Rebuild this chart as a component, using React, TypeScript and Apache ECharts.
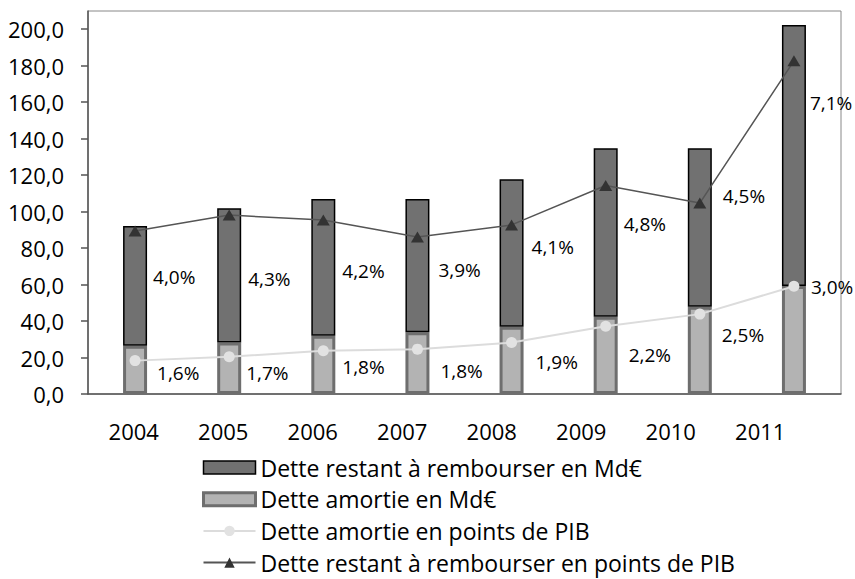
import React, { useEffect, useRef } from "react";
import * as echarts from "echarts";

const years = ["2004", "2005", "2006", "2007", "2008", "2009", "2010", "2011"];
// Md€ (stacked bars)
const detteAmortieMd = [26.5, 28.3, 32.0, 33.8, 36.9, 42.4, 47.9, 59.2];
const detteRestantMd = [65.6, 73.5, 74.9, 73.1, 80.8, 92.3, 86.8, 143.1];
// points de PIB (%)
const detteAmortiePib = [1.61, 1.68, 1.79, 1.82, 1.94, 2.24, 2.46, 2.97];
const detteRestantPib = [3.98, 4.27, 4.18, 3.87, 4.09, 4.81, 4.49, 7.09];

// label nudges (pixels, relative to the point)
const restantLabelOffsets = [[18, 46], [19, 64], [19, 51], [21, 33], [20, 22], [18, 38], [23, -7], [16, 42]];
const amortieLabelOffsets = [[22, 12], [17, 16], [19, 16], [23, 22], [24, 19], [23, 29], [22, 21], [17, 1]];

const NAME_RESTANT_MD = "Dette restant à rembourser en Md€";
const NAME_AMORTIE_MD = "Dette amortie en Md€";
const NAME_AMORTIE_PIB = "Dette amortie en points de PIB";
const NAME_RESTANT_PIB = "Dette restant à rembourser en points de PIB";

const FONT = "'Open Sans', 'Noto Sans', sans-serif";
const fmtPct = (v: number) => v.toFixed(1).replace(".", ",") + "%";

export default function App() {
  const ref = useRef<HTMLDivElement>(null);
  useEffect(() => {
    if (!ref.current) return;
    const chart = echarts.init(ref.current, undefined, { renderer: "svg" });
    const pctLabel = {
      show: true,
      position: "inside",
      align: "left",
      verticalAlign: "middle",
      fontSize: 19,
      color: "#000",
      fontFamily: FONT,
      formatter: (p: any) => fmtPct(p.value),
    };
    chart.setOption({
      animation: false,
      backgroundColor: "#fff",
      textStyle: { fontFamily: FONT },
      grid: [
        { left: 88, top: 11, width: 753, height: 383, show: true, borderColor: "#888", borderWidth: 1 },
        { left: 89, top: 11, width: 716, height: 383 },
      ],
      xAxis: [
        {
          type: "category",
          gridIndex: 0,
          data: years,
          axisLine: { lineStyle: { color: "#555", width: 1.5 } },
          axisTick: { length: 8, lineStyle: { color: "#555", width: 1.5 } },
          axisLabel: { show: false },
        },
        {
          type: "category",
          gridIndex: 1,
          data: years,
          axisLine: { show: false },
          axisTick: { show: false },
          axisLabel: { fontSize: 22, color: "#000", margin: 26, fontFamily: FONT },
        },
      ],
      yAxis: [
        {
          type: "value",
          gridIndex: 0,
          min: 0,
          max: 210,
          interval: 20,
          axisLine: { show: true, lineStyle: { color: "#555", width: 1.5 } },
          axisTick: { show: true, length: 7, lineStyle: { color: "#555", width: 1.5 } },
          splitLine: { show: false },
          axisLabel: {
            showMaxLabel: false,
            fontSize: 22,
            color: "#000",
            margin: 24,
            fontFamily: FONT,
            formatter: (v: number) => v.toFixed(1).replace(".", ","),
          },
        },
        { type: "value", gridIndex: 0, min: 1, max: 8, show: false },
        { type: "value", gridIndex: 1, show: false },
      ],
      legend: {
        orient: "vertical",
        left: 202,
        top: 456,
        height: 160,
        width: 650,
        padding: 0,
        itemWidth: 52,
        itemHeight: 13,
        itemGap: 8.7,
        textStyle: { fontSize: 23, lineHeight: 23, color: "#000", fontFamily: FONT },
        data: [
          { name: NAME_RESTANT_MD, icon: "rect", itemStyle: { borderWidth: 1.5, borderColor: "#000" } },
          { name: NAME_AMORTIE_MD, icon: "rect", itemStyle: { borderWidth: 3, borderColor: "#6e6e6e" } },
          { name: NAME_AMORTIE_PIB },
          { name: NAME_RESTANT_PIB },
        ],
      },
      series: [
        {
          name: NAME_AMORTIE_MD,
          type: "bar",
          stack: "md",
          xAxisIndex: 0,
          yAxisIndex: 0,
          barWidth: 24,
          data: detteAmortieMd,
          itemStyle: { color: "#b3b3b3", borderColor: "#6e6e6e", borderWidth: 3 },
        },
        {
          name: NAME_RESTANT_MD,
          type: "bar",
          stack: "md",
          xAxisIndex: 0,
          yAxisIndex: 0,
          barWidth: 24,
          data: detteRestantMd,
          itemStyle: { color: "#717171", borderColor: "#000", borderWidth: 1.5 },
        },
        {
          name: NAME_AMORTIE_PIB,
          type: "line",
          xAxisIndex: 0,
          yAxisIndex: 1,
          symbol: "circle",
          symbolSize: 11,
          lineStyle: { color: "#dcdcdc", width: 2 },
          itemStyle: { color: "#e2e2e2" },
          label: pctLabel,
          data: detteAmortiePib.map((v, i) => ({ value: v, label: { offset: amortieLabelOffsets[i] } })),
        },
        {
          name: NAME_RESTANT_PIB,
          type: "line",
          xAxisIndex: 0,
          yAxisIndex: 1,
          symbol: "triangle",
          symbolSize: [13, 11],
          lineStyle: { color: "#555", width: 1.5 },
          itemStyle: { color: "#333" },
          label: pctLabel,
          data: detteRestantPib.map((v, i) => ({ value: v, label: { offset: restantLabelOffsets[i] } })),
        },
      ],
    });
    return () => chart.dispose();
  }, []);
  return (
    <div
      ref={ref}
      style={{ position: "fixed", left: 0, top: 0, width: 855, height: 579 }}
    />
  );
}
